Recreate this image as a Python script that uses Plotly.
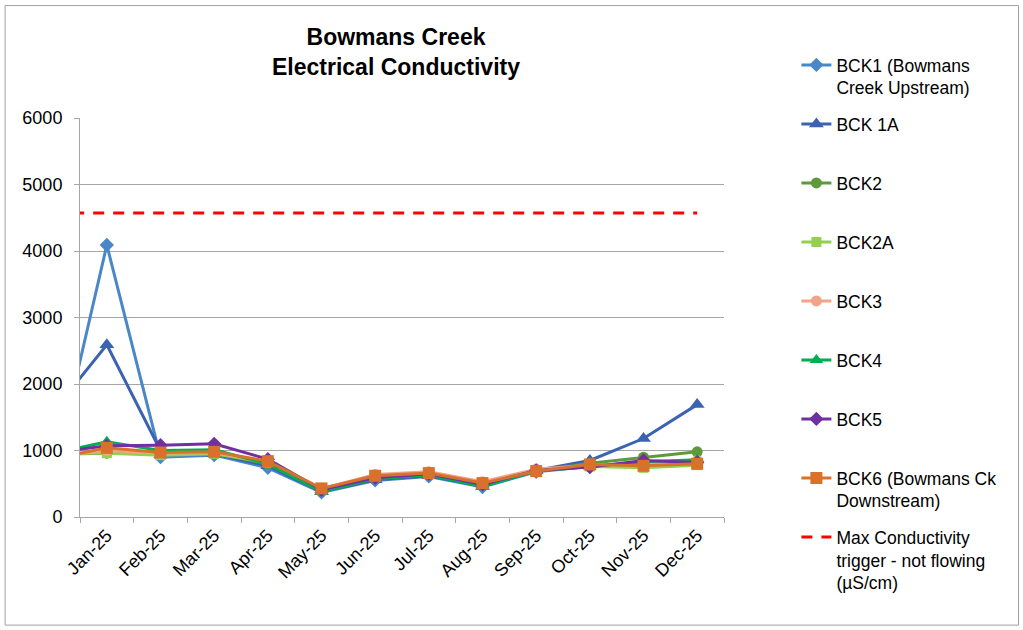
import plotly.graph_objects as go

# Categories (Dec-24 is the preceding sample, clipped by the axis range)
months = ["Dec-24", "Jan-25", "Feb-25", "Mar-25", "Apr-25", "May-25", "Jun-25",
          "Jul-25", "Aug-25", "Sep-25", "Oct-25", "Nov-25", "Dec-25"]

bck1  = [600, 4090, 900, 930, 740, 370, 550, 610, 450, 680, 760, 800, 830]
bck1a = [1590, 2590, 1000, 950, 770, 380, 560, 620, 460, 700, 850, 1180, 1690]
bck2  = [940, 960, 950, 960, 800, 400, 580, 640, 480, 690, 810, 900, 980]
bck2a = [960, 960, 930, 950, 820, 410, 600, 650, 500, 700, 760, 740, 780]
bck3  = [920, 1000, 960, 970, 830, 420, 640, 680, 530, 720, 780, 800, 850]
bck4  = [960, 1130, 1000, 1010, 800, 380, 580, 630, 460, 690, 760, 830, 860]
bck5  = [970, 1070, 1080, 1100, 870, 410, 590, 650, 490, 700, 750, 850, 820]
bck6  = [880, 1040, 970, 980, 840, 430, 620, 660, 510, 690, 790, 770, 800]
trigger = [4570] * 13

series = [
    ("BCK1 (Bowmans<br>Creek Upstream)", bck1, "#4A87C6", "diamond", 11),
    ("BCK 1A<br> ", bck1a, "#3B63B1", "triangle-up", 13),
    ("BCK2<br> ", bck2, "#5E9A3A", "circle", 11),
    ("BCK2A<br> ", bck2a, "#92D050", "square", 10),
    ("BCK3<br> ", bck3, "#F2A488", "circle", 11),
    ("BCK4<br> ", bck4, "#00B050", "triangle-up", 12),
    ("BCK5<br> ", bck5, "#7030A0", "diamond", 11),
    ("BCK6 (Bowmans Ck<br>Downstream)", bck6, "#D8712C", "square", 12),
]

FONT = "Arial, Liberation Sans, sans-serif"
GRID = "#A6A6A6"

fig = go.Figure()
for i, (name, vals, col, sym, sz) in enumerate(series):
    fig.add_trace(go.Scatter(
        x=months, y=vals, name=name, mode="lines+markers",
        line=dict(color=col, width=3),
        marker=dict(symbol=sym, size=sz, color=col),
        legendgroup=f"g{i}", cliponaxis=True,
    ))
fig.add_trace(go.Scatter(
    x=months, y=trigger, mode="lines",
    name="Max Conductivity<br>trigger - not flowing<br>(µS/cm)",
    line=dict(color="#FF0000", width=3, dash="11px,9px"),
    legendgroup="g9",
))

L, R, T, B = 79.5, 724.5, 118.0, 517.3
W, H = 1023, 630
pw, ph = R - L, B - T

def px_x(x):
    return (x - L) / pw

def px_y(y):
    return (B - y) / ph

fig.update_layout(
    width=W, height=H, autosize=False,
    margin=dict(l=L, r=W - R, t=T, b=H - B, pad=0),
    paper_bgcolor="white", plot_bgcolor="white",
    font=dict(family=FONT, size=18, color="black"),
    title=dict(
        text="<b>Bowmans Creek<br>Electrical Conductivity</b>",
        x=396 / W, xref="container", xanchor="center",
        y=1 - 45 / H, yref="container", yanchor="top",
        font=dict(family=FONT, size=23, color="black"),
        automargin=False,
    ),
    showlegend=True,
    legend=dict(
        x=px_x(797), xanchor="left",
        y=px_y(47), yanchor="top",
        font=dict(family=FONT, size=17.5, color="black"),
        valign="top", traceorder="grouped", tracegroupgap=10.5,
        bgcolor="rgba(0,0,0,0)", borderwidth=0,
        maxheight=600,
    ),
    xaxis=dict(
        type="category", categoryorder="array", categoryarray=months,
        range=[0.5, 12.5], tickson="boundaries",
        ticks="outside", ticklen=5, tickcolor=GRID, tickwidth=1,
        tickangle=-45, showgrid=False, showline=True, linecolor=GRID, linewidth=1,
        tickfont=dict(family=FONT, size=18, color="black"), zeroline=False,
    ),
    yaxis=dict(
        range=[0, 6000], dtick=1000, tick0=0,
        ticks="outside", ticklen=5, tickcolor=GRID, tickwidth=1,
        showgrid=True, gridcolor=GRID, gridwidth=1,
        showline=True, linecolor=GRID, linewidth=1, zeroline=False,
        tickfont=dict(family=FONT, size=18, color="black"),
        ticklabelstandoff=8,
    ),
    hovermode=False,
    shapes=[dict(
        type="rect", xref="paper", yref="paper",
        x0=px_x(4.5), x1=px_x(1019.5), y0=px_y(625.5), y1=px_y(5.5),
        line=dict(color="#A0A0A0", width=1), fillcolor="rgba(0,0,0,0)", layer="below",
    )],
)

fig.write_html("out.html", config={"displayModeBar": False})
